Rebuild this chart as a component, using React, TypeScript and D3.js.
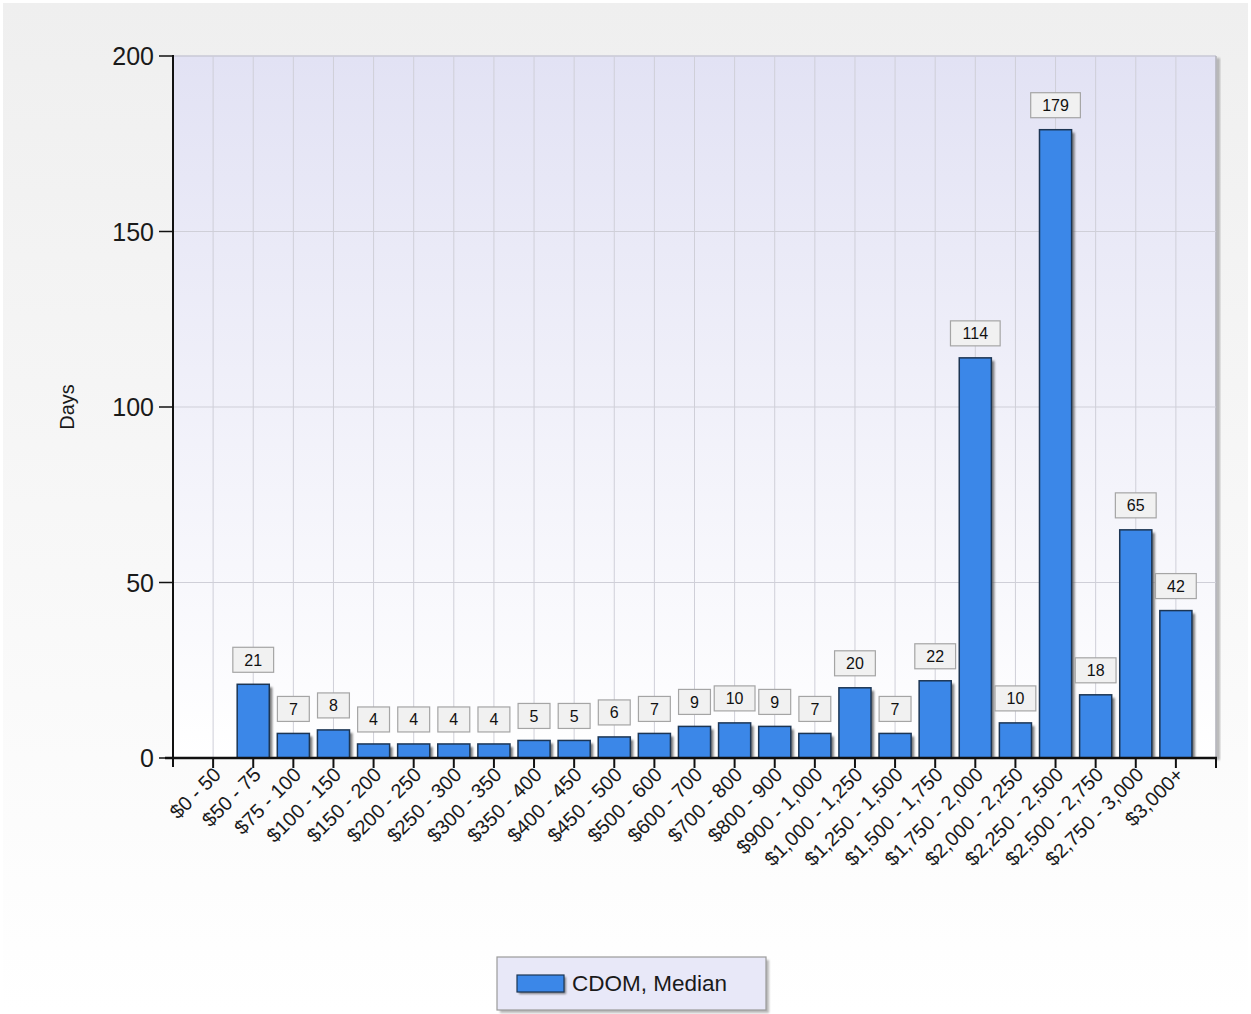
import React from "react";
import * as d3 from "d3";

const categories = [
  "$0 - 50", "$50 - 75", "$75 - 100", "$100 - 150", "$150 - 200", "$200 - 250",
  "$250 - 300", "$300 - 350", "$350 - 400", "$400 - 450", "$450 - 500", "$500 - 600",
  "$600 - 700", "$700 - 800", "$800 - 900", "$900 - 1,000", "$1,000 - 1,250",
  "$1,250 - 1,500", "$1,500 - 1,750", "$1,750 - 2,000", "$2,000 - 2,250",
  "$2,250 - 2,500", "$2,500 - 2,750", "$2,750 - 3,000", "$3,000+",
];
const medianDays: (number | null)[] = [
  null, 21, 7, 8, 4, 4, 4, 4, 5, 5, 6, 7, 9, 10, 9, 7, 20, 7, 22, 114, 10, 179, 18, 65, 42,
];
const yTicks = [0, 50, 100, 150, 200];
const seriesName = "CDOM, Median";
const yTitle = "Days";

const W = 1251;
const H = 1014;
const L = 173, R = 1216, T = 56, B = 758;

export default function App() {
  const x = d3.scalePoint<string>().domain(categories).range([L, R]).padding(1);
  const step = x.step();
  const y = d3.scaleLinear().domain([0, 200]).range([B, T]);
  const barW = step * 0.8;
  const labelFont = 16;

  const measure = (s: string) => s.length * labelFont * 0.556;

  return (
    <svg width={W} height={H} style={{ position: "absolute", left: 0, top: 0 }}
      fontFamily="'Liberation Sans', Arial, sans-serif">
      <defs>
        <linearGradient id="bg" x1="0" y1="0" x2="0" y2="1">
          <stop offset="0" stopColor="#efefef" />
          <stop offset="1" stopColor="#ffffff" />
        </linearGradient>
        <linearGradient id="plotbg" x1="0" y1="0" x2="0" y2="1">
          <stop offset="0" stopColor="#e2e2f4" />
          <stop offset="1" stopColor="#ffffff" />
        </linearGradient>
        <filter id="blur" x="-20%" y="-20%" width="140%" height="140%">
          <feGaussianBlur stdDeviation="1.2" />
        </filter>
      </defs>
      <rect x={0} y={0} width={W} height={H} fill="#ffffff" />
      <rect x={3} y={3} width={W - 6} height={H - 6} fill="url(#bg)" />

      {/* plot area */}
      <rect x={R} y={T + 2} width={4} height={B - T} fill="#9a9a9a" opacity={0.7} filter="url(#blur)" />
      <rect x={L} y={T} width={R - L} height={B - T} fill="url(#plotbg)" />
      <line x1={L} x2={R} y1={T} y2={T} stroke="#c8c8d6" strokeWidth={1.5} />
      <line x1={R} x2={R} y1={T} y2={B} stroke="#b0b0b8" strokeWidth={1.5} />

      {/* grid */}
      {categories.map((c) => (
        <line key={"gv" + c} x1={x(c)} x2={x(c)} y1={T} y2={B} stroke="#cfcfd8" strokeWidth={1} />
      ))}
      {yTicks.filter((t) => t > 0 && t < 200).map((t) => (
        <line key={"gh" + t} x1={L} x2={R} y1={y(t)} y2={y(t)} stroke="#cfcfd8" strokeWidth={1} />
      ))}

      {/* bars */}
      {categories.map((c, i) => {
        const v = medianDays[i];
        if (v == null) return null;
        const cx = x(c)!;
        const top = y(v);
        return (
          <g key={"b" + c}>
            <rect x={cx - barW / 2 + 3} y={top + 3} width={barW} height={B - top - 3}
              fill="#5b5b5b" opacity={0.8} filter="url(#blur)" />
            <rect x={cx - barW / 2} y={top} width={barW} height={B - top}
              fill="#3b87e8" stroke="#1c3553" strokeWidth={1.5} />
          </g>
        );
      })}

      {/* value labels */}
      {categories.map((c, i) => {
        const v = medianDays[i];
        if (v == null) return null;
        const cx = x(c)!;
        const s = String(v);
        const bw = measure(s) + 23;
        const bh = 25;
        const by = y(v) - 12 - bh;
        return (
          <g key={"l" + c}>
            <rect x={cx - bw / 2} y={by} width={bw} height={bh} fill="#f1f1f1" stroke="#a5a5a5" strokeWidth={1.2} />
            <text x={cx} y={by + bh / 2 + 6} textAnchor="middle" fontSize={labelFont} fill="#111">{s}</text>
          </g>
        );
      })}

      {/* axes */}
      <line x1={L} x2={L} y1={T - 1} y2={B + 9} stroke="#111" strokeWidth={2} />
      <line x1={L - 8} x2={R + 1} y1={B} y2={B} stroke="#111" strokeWidth={2.5} />
      {yTicks.map((t) => (
        <g key={"yt" + t}>
          <line x1={L - 14} x2={L} y1={y(t)} y2={y(t)} stroke="#111" strokeWidth={1.5} />
          <text x={L - 19} y={y(t) + 9} textAnchor="end" fontSize={25} fill="#1a1a1a">{t}</text>
        </g>
      ))}
      {[...categories.map((c) => x(c)!), R].map((px, i) => (
        <line key={"xt" + i} x1={px} x2={px} y1={B} y2={B + 10} stroke="#111" strokeWidth={2} />
      ))}
      {categories.map((c) => (
        <text key={"xl" + c} transform={`translate(${x(c)! + 9},${B + 18}) rotate(-45)`}
          textAnchor="end" fontSize={20} fill="#1a1a1a">{c}</text>
      ))}
      <text transform={`translate(${74},${(T + B) / 2}) rotate(-90)`} textAnchor="middle"
        fontSize={20} fill="#1a1a1a">{yTitle}</text>

      {/* legend */}
      <rect x={500} y={960} width={269} height={53} fill="#8a8a8a" opacity={0.6} filter="url(#blur)" />
      <rect x={497} y={957} width={269} height={53} fill="#e8e8f8" stroke="#9a9a9a" strokeWidth={1.2} />
      <rect x={519} y={977} width={47} height={17} fill="#555" opacity={0.7} filter="url(#blur)" />
      <rect x={517} y={975} width={47} height={17} fill="#3b87e8" stroke="#1c3553" strokeWidth={1.2} />
      <text x={572} y={991} fontSize={22.5} fill="#1a1a1a">{seriesName}</text>
    </svg>
  );
}
